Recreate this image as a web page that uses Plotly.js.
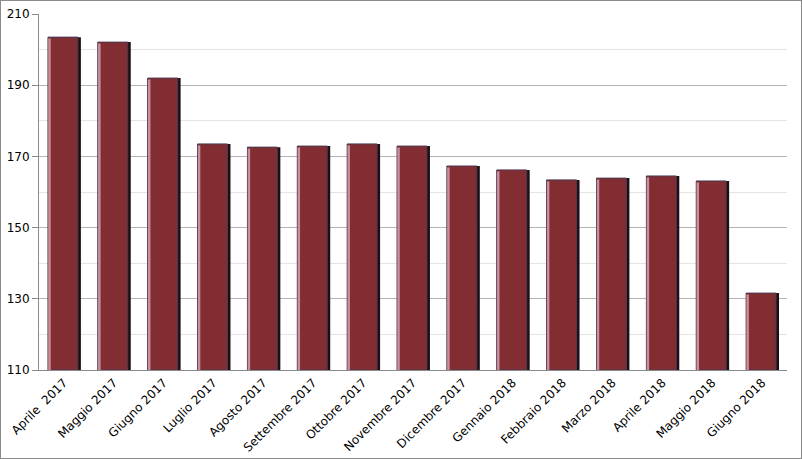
<!DOCTYPE html>
<html><head><meta charset="utf-8">
<script src="https://cdn.plot.ly/plotly-3.0.1.min.js"></script>
<style>
html,body{margin:0;padding:0;background:#fff;}
#chart{width:800px;height:457px;border:1px solid #8a8a8a;}
</style></head>
<body><div id="chart"></div>
<script>
const categories = ["Aprile\u00a0 2017","Maggio 2017","Giugno 2017","Luglio 2017","Agosto 2017","Settembre 2017","Ottobre 2017","Novembre 2017","Dicembre 2017","Gennaio 2018","Febbraio 2018","Marzo 2018","Aprile 2018","Maggio 2018","Giugno 2018"];
const values = [203.5,202.1,192.0,173.5,172.6,172.9,173.5,172.9,167.3,166.2,163.4,163.9,164.5,163.1,131.6];
const yTicks = [110,130,150,170,190,210];

const base = 110;
const heights = values.map(v => v - base);

const shadow = {type:'bar', x:categories, y:heights, base:base, width:0.66, offset:-0.32,
  marker:{color:'#1e1012', line:{width:0}}, hoverinfo:'skip', showlegend:false};
const main = {type:'bar', x:categories, y:heights, base:base, width:0.6, offset:-0.32,
  marker:{color:'#822d31', line:{width:1, color:'#4a3a55'}}, showlegend:false};
const highlight = {type:'bar', x:categories, y:heights.map(h=>h-0.4), base:base, width:0.05, offset:-0.315,
  marker:{color:'#c98f9c', line:{width:0}}, hoverinfo:'skip', showlegend:false};

Plotly.newPlot('chart',[shadow, main, highlight],{
  width:800, height:457,
  margin:{l:38, r:14, t:13, b:88},
  barmode:'overlay',
  paper_bgcolor:'#fff', plot_bgcolor:'#fff',
  font:{family:'DejaVu Sans, Verdana, sans-serif', color:'#000'},
  xaxis:{type:'category', tickangle:-45, tickfont:{size:12}, showline:true, linecolor:'#8a8a8a',
    linewidth:1, ticks:'', showgrid:false, range:[-0.5,14.5]},
  yaxis:{range:[110,210], tickvals:yTicks, ticktext:yTicks.map(String), tickfont:{size:12},
    showline:true, linecolor:'#8a8a8a', linewidth:1, ticks:'outside', ticklen:6, tickcolor:'#8a8a8a',
    showgrid:true, gridcolor:'#b4b4b4', gridwidth:1, zeroline:false,
    minor:{dtick:10, tick0:110, showgrid:true, gridcolor:'#e4e4e4', ticks:''}}
},{staticPlot:true, displayModeBar:false});
</script></body></html>
